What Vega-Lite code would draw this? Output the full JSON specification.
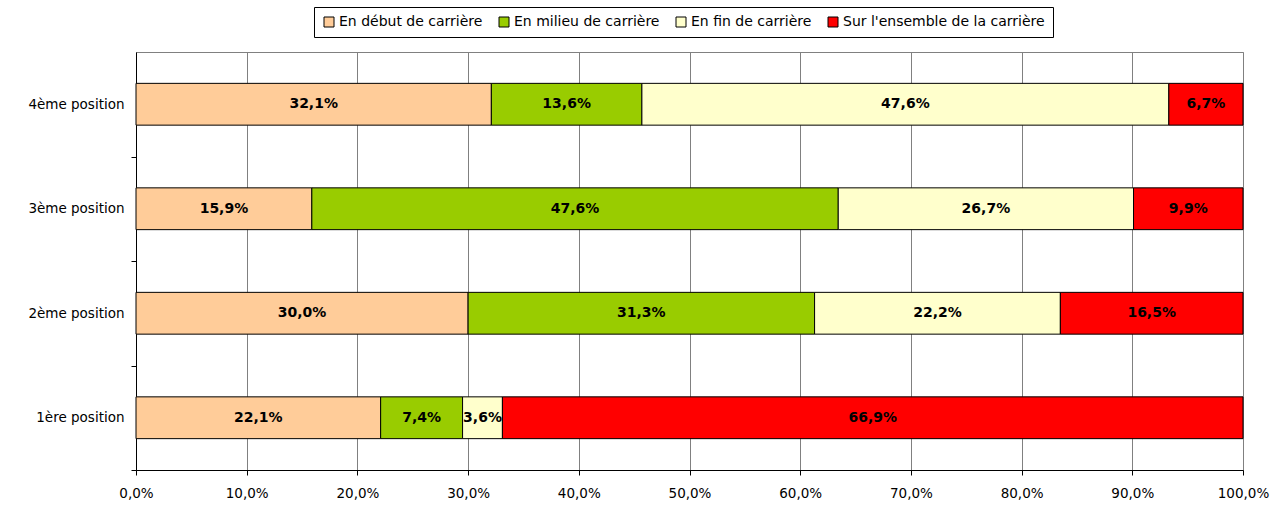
{
  "$schema": "https://vega.github.io/schema/vega-lite/v6.json",
  "width": 1107,
  "height": 418,
  "autosize": "none",
  "padding": {"left": 136, "top": 52, "right": 33, "bottom": 49},
  "background": "white",
  "config": {
    "locale": {"number": {"decimal": ",", "thousands": " ", "grouping": [3], "currency": ["", " €"]}},
    "font": "DejaVu Sans",
    "view": {"stroke": "#808080", "strokeWidth": 1}
  },
  "data": {
    "values": [
      {"pos": "4ème position", "cat": "En début de carrière", "k": 1, "value": 0.321},
      {"pos": "4ème position", "cat": "En milieu de carrière", "k": 2, "value": 0.136},
      {"pos": "4ème position", "cat": "En fin de carrière", "k": 3, "value": 0.476},
      {"pos": "4ème position", "cat": "Sur l'ensemble de la carrière", "k": 4, "value": 0.067},
      {"pos": "3ème position", "cat": "En début de carrière", "k": 1, "value": 0.159},
      {"pos": "3ème position", "cat": "En milieu de carrière", "k": 2, "value": 0.476},
      {"pos": "3ème position", "cat": "En fin de carrière", "k": 3, "value": 0.267},
      {"pos": "3ème position", "cat": "Sur l'ensemble de la carrière", "k": 4, "value": 0.099},
      {"pos": "2ème position", "cat": "En début de carrière", "k": 1, "value": 0.300},
      {"pos": "2ème position", "cat": "En milieu de carrière", "k": 2, "value": 0.313},
      {"pos": "2ème position", "cat": "En fin de carrière", "k": 3, "value": 0.222},
      {"pos": "2ème position", "cat": "Sur l'ensemble de la carrière", "k": 4, "value": 0.165},
      {"pos": "1ère position", "cat": "En début de carrière", "k": 1, "value": 0.221},
      {"pos": "1ère position", "cat": "En milieu de carrière", "k": 2, "value": 0.074},
      {"pos": "1ère position", "cat": "En fin de carrière", "k": 3, "value": 0.036},
      {"pos": "1ère position", "cat": "Sur l'ensemble de la carrière", "k": 4, "value": 0.669}
    ]
  },
  "encoding": {
    "y": {
      "field": "pos",
      "type": "nominal",
      "sort": ["4ème position", "3ème position", "2ème position", "1ère position"],
      "scale": {"paddingInner": 0.6, "paddingOuter": 0.3},
      "axis": {
        "title": null,
        "domainColor": "black",
        "tickColor": "black",
        "tickSize": 5,
        "tickOffset": 52.25,
        "labelOffset": -52.25,
        "labelPadding": 7,
        "labelFontSize": 13.5,
        "labelColor": "black",
        "grid": false
      }
    },
    "order": {"field": "k", "type": "quantitative"}
  },
  "layer": [
    {
      "mark": {"type": "bar", "stroke": "black", "strokeWidth": 1},
      "encoding": {
        "x": {
          "field": "value",
          "type": "quantitative",
          "stack": "normalize",
          "scale": {"domain": [0, 1]},
          "axis": {
            "title": null,
            "labelExpr": "replace(format(datum.value, '.1%'), '.', ',')",
            "values": [0, 0.1, 0.2, 0.3, 0.4, 0.5, 0.6, 0.7, 0.8, 0.9, 1],
            "grid": true,
            "gridColor": "#808080",
            "gridWidth": 1,
            "gridOpacity": 1,
            "domainColor": "black",
            "tickColor": "black",
            "tickSize": 5,
            "labelFlush": false,
            "labelPadding": 11,
            "labelFontSize": 13.5,
            "labelColor": "black"
          }
        },
        "color": {
          "field": "cat",
          "type": "nominal",
          "scale": {
            "domain": ["En début de carrière", "En milieu de carrière", "En fin de carrière", "Sur l'ensemble de la carrière"],
            "range": ["#FFCC99", "#99CC00", "#FFFFCC", "#FF0000"]
          },
          "legend": {
            "title": null,
            "orient": "none",
            "legendX": 178,
            "legendY": -45,
            "direction": "horizontal",
            "symbolType": "square",
            "symbolSize": 100,
            "symbolStrokeColor": "black",
            "symbolStrokeWidth": 1,
            "labelFontSize": 14,
            "labelLimit": 400,
            "labelColor": "black",
            "columnPadding": 14,
            "symbolOffset": 0,
            "labelOffset": 3,
            "strokeColor": "black",
            "padding": 8,
            "fillColor": "white"
          }
        }
      }
    },
    {
      "mark": {"type": "text", "fontWeight": "bold", "fontSize": 14, "color": "black"},
      "encoding": {
        "x": {
          "field": "value",
          "type": "quantitative",
          "stack": "normalize",
          "bandPosition": 0.5,
          "axis": {
            "title": null,
            "labelExpr": "replace(format(datum.value, '.1%'), '.', ',')",
            "values": [0, 0.1, 0.2, 0.3, 0.4, 0.5, 0.6, 0.7, 0.8, 0.9, 1],
            "grid": true,
            "gridColor": "#808080",
            "gridWidth": 1,
            "gridOpacity": 1,
            "domainColor": "black",
            "tickColor": "black",
            "tickSize": 5,
            "labelFlush": false,
            "labelPadding": 11,
            "labelFontSize": 13.5,
            "labelColor": "black"
          }
        },
        "text": {"field": "value", "type": "quantitative", "format": ".1%"}
      }
    }
  ]
}
